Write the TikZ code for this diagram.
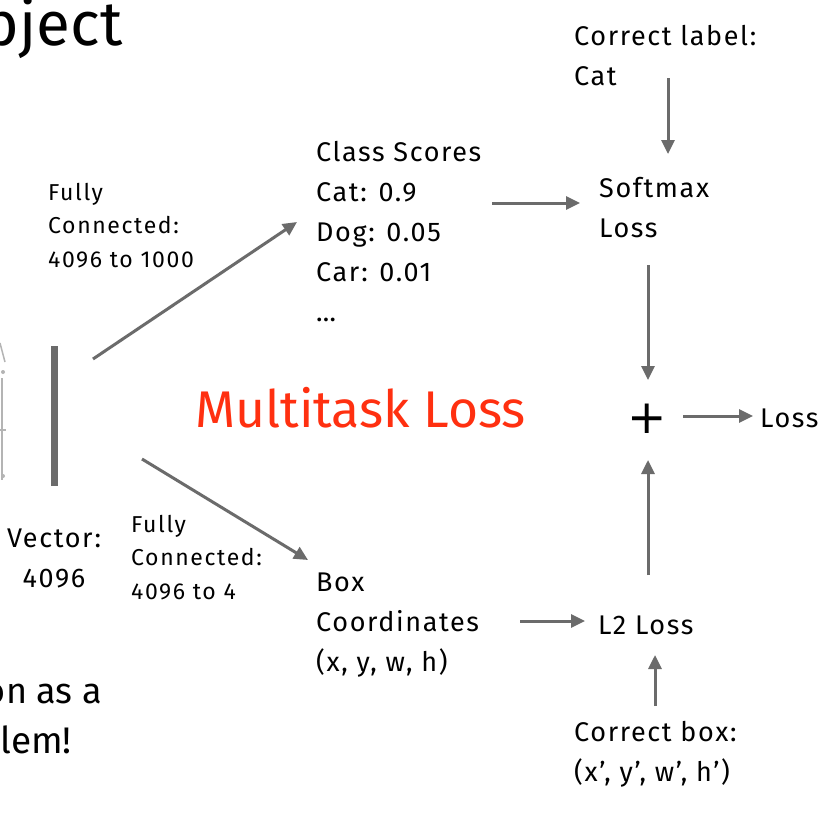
\documentclass[tikz,border=0pt]{standalone}
\usepackage{fontspec}
\setmainfont{Fira Sans}
\newfontfamily\mainls[LetterSpace=6]{Fira Sans}
\newfontfamily\smallls[LetterSpace=7]{Fira Sans}
\newfontfamily\plusfont{DejaVu Sans}
\usetikzlibrary{arrows.meta}
\definecolor{arrgray}{HTML}{6B6B6B}
\definecolor{mtred}{RGB}{255,48,16}
\definecolor{fraggray}{HTML}{B4B4B4}
\begin{document}
\begin{tikzpicture}[x=1pt,y=-1pt,
  arr/.style={draw=arrgray,line width=3pt,-{Triangle[length=14pt,width=13pt]}},
  big/.style={font=\mainls\fontsize{27}{40}\selectfont, inner sep=0pt, anchor=base west, align=left},
  small/.style={font=\smallls\fontsize{23}{33.5}\selectfont, inner sep=0pt, anchor=base west, align=left},
  frag/.style={draw=fraggray, line width=1.5pt}]
\clip (0,0) rectangle (834,814);
\fill[white] (0,0) rectangle (834,814);

% cut-off slide text (multi-line nodes are placed by their last baseline)
\node[font=\fontsize{62}{70}\selectfont, anchor=base east, inner sep=0pt] (title) at (123,45) {bject};
\node[font=\fontsize{36}{50}\selectfont, anchor=base east, inner sep=0pt] (bot1) at (102,703) {on as a};
\node[font=\fontsize{37}{50}\selectfont, anchor=base east, inner sep=0pt] (bot2) at (72,753) {lem!};

% fragment of network figure at left edge
\draw[frag] (0,343) -- (5,362);
\draw[frag] (2,378) -- (2,480);
\draw[frag] (0,430) -- (6,430);
\fill[fraggray] (3,372) circle (2);
\fill[fraggray] (3,476) circle (2);

% feature vector bar
\node[fill=arrgray, minimum width=7pt, minimum height=140pt, inner sep=0pt] (bar) at (54,416) {};
\node[big, align=center, anchor=base] (vec) at (54,587) {Vector:\\4096};

% labels
\node[small] (fc1) at (48,267) {Fully\\Connected:\\4096 to 1000};
\node[small] (fc2) at (131,599) {Fully\\Connected:\\4096 to 4};
\node[big] (cs) at (316,321) {Class Scores\\Cat: 0.9\\Dog: 0.05\\Car: 0.01\\…};
\node[big] (box) at (316,671) {Box\\Coordinates\\(x, y, w, h)};
\node[big] (cl) at (574,85) {Correct label:\\Cat};
\node[big] (sm) at (599,237) {Softmax\\Loss};
\node[big] (l2) at (598,634) {L2 Loss};
\node[big] (cb) at (574,781) {Correct box:\\(x’, y’, w’, h’)};
\node[font=\plusfont\fontsize{47}{47}\selectfont, inner sep=0pt] (plus) at (647,419) {+};
\node[big] (loss) at (760,427) {Loss};
\node[font=\fontsize{51.6}{60}\selectfont, text=mtred, anchor=base west, inner sep=0pt] (mt) at (195,427) {Multitask Loss};

% arrow end points
\coordinate (barTop) at (93,359);
\coordinate (csIn) at (297,222);
\coordinate (barBot) at (142,459);
\coordinate (boxIn) at (308,560);
\coordinate (csOut) at (492,203);
\coordinate (smIn) at (580,203);
\coordinate (clOut) at (668,78);
\coordinate (smTop) at (668,154);
\coordinate (smOut) at (648,265);
\coordinate (plusTop) at (648,380);
\coordinate (l2Out) at (648,575);
\coordinate (plusBot) at (648,460);
\coordinate (plusOut) at (683,416);
\coordinate (lossIn) at (753,416);
\coordinate (boxOut) at (520,621);
\coordinate (l2In) at (585,621);
\coordinate (cbOut) at (655,706);
\coordinate (l2Bot) at (655,655);

\draw[arr] (barTop) -- (csIn);
\draw[arr] (barBot) -- (boxIn);
\draw[arr] (csOut) -- (smIn);
\draw[arr] (clOut) -- (smTop);
\draw[arr] (smOut) -- (plusTop);
\draw[arr] (l2Out) -- (plusBot);
\draw[arr] (plusOut) -- (lossIn);
\draw[arr] (boxOut) -- (l2In);
\draw[arr] (cbOut) -- (l2Bot);
\end{tikzpicture}
\end{document}
